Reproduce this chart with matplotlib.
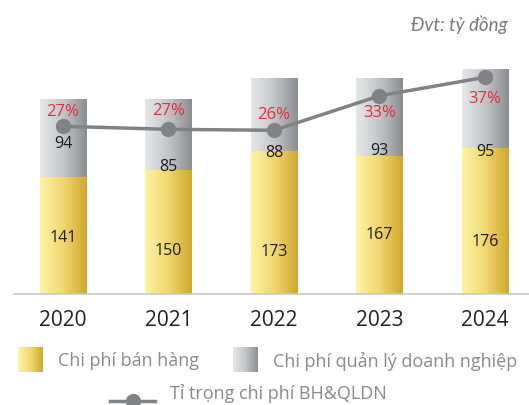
import matplotlib
matplotlib.use("Agg")
import matplotlib.pyplot as plt
import numpy as np
from matplotlib.colors import LinearSegmentedColormap
from matplotlib.lines import Line2D

plt.rcParams['font.family'] = ['Open Sans', 'DejaVu Sans']

# data
years = ["2020", "2021", "2022", "2023", "2024"]
ban_hang = [141, 150, 173, 167, 176]
quan_ly = [94, 85, 88, 93, 95]
ti_trong = [27.2, 26.6, 26.4, 33.3, 37.0]
ti_trong_labels = ["27%", "27%", "26%", "33%", "37%"]

# label placement tweaks (points / fractions)
gold_lab_frac = [0.485, 0.356, 0.30, 0.43, 0.36]
gray_lab_off = [24.5, 2.4, -0.9, 4.1, -2.4]
pct_lab_off = [10.8, 13.7, 11.5, -12.0, -14.9]

gold_cmap = LinearSegmentedColormap.from_list("gold", ["#fef3a6", "#f0d770", "#d0a82a"])
gray_cmap = LinearSegmentedColormap.from_list("gray", ["#e6e7e9", "#c4c5c8", "#8c8d91"])
grad = np.linspace(0, 1, 256).reshape(1, -1)

fig = plt.figure(figsize=(5.29, 4.06), dpi=100)
ax = fig.add_axes([0.0265, 0.2734, 0.9735, 0.5788])
ax2 = ax.twinx()

x = np.arange(len(years))
w = 0.436


def gradient_bars(bars, cmap):
    for b in bars:
        x0, y0 = b.get_x(), b.get_y()
        im = ax.imshow(grad, cmap=cmap, aspect='auto', zorder=2,
                       extent=[x0, x0 + b.get_width(), y0, y0 + b.get_height()])
        im.set_clip_path(b)
        b.set_facecolor('none')
        b.set_edgecolor('none')


b1 = ax.bar(x, ban_hang, w, zorder=1)
b2 = ax.bar(x, quan_ly, w, bottom=ban_hang, zorder=1)
gradient_bars(b1, gold_cmap)
gradient_bars(b2, gray_cmap)

ax.set_xlim(-0.464, 4.417)
ax.set_ylim(0, 283.5)

for i in range(len(years)):
    ax.text(x[i], ban_hang[i] * gold_lab_frac[i], str(ban_hang[i]), ha='center', va='center',
            fontsize=11.5, color='#1e1e1e', zorder=5)
    ax.annotate(str(quan_ly[i]), (x[i], ban_hang[i]), xytext=(0, gray_lab_off[i]),
                textcoords='offset points', ha='center', va='center',
                fontsize=11.5, color='#1e1e1e', zorder=5)

ax2.plot(x, ti_trong, color='#808285', lw=2.5, marker='o', ms=10, zorder=4)
ax2.set_ylim(-6.34, 40.66)
for i in range(len(years)):
    ax2.annotate(ti_trong_labels[i], (x[i], ti_trong[i]), xytext=(0, pct_lab_off[i]),
                 textcoords='offset points', ha='center', va='center',
                 fontsize=12, color='#e0303a', zorder=6)

for a in (ax, ax2):
    for s in ['top', 'right', 'left']:
        a.spines[s].set_visible(False)
    a.set_yticks([])
ax2.spines['bottom'].set_visible(False)
ax.spines['bottom'].set_color('#c8c8c8')
ax.spines['bottom'].set_linewidth(1.2)
ax.set_xticks(x)
ax.set_xticklabels(years, fontsize=15, color='#222222')
ax.tick_params(axis='x', length=0, pad=11)

fig.text(508 / 529, 1 - 25 / 406, "Đvt: tỷ đồng", ha='right', va='center',
         fontsize=13.5, style='italic', color='#7a7a7a', family=['Lato', 'DejaVu Sans'])

# legend
for left, cmap, label in [(18, gold_cmap, "Chi phí bán hàng"),
                          (233, gray_cmap, "Chi phí quản lý doanh nghiệp")]:
    lax = fig.add_axes([left / 529, 1 - 373 / 406, 25 / 529, 25 / 406])
    lax.imshow(grad, cmap=cmap, aspect='auto')
    lax.axis('off')
    fig.text((left + 40) / 529, 1 - 361 / 406, label, ha='left', va='center',
             fontsize=13, color='#8a8a8a')

fig.add_artist(Line2D([110 / 529, 155 / 529], [1 - 401.7 / 406] * 2, transform=fig.transFigure,
                      color='#808285', lw=2.5))
fig.add_artist(Line2D([133 / 529], [1 - 401.7 / 406], transform=fig.transFigure,
                      color='#808285', marker='o', ms=10))
fig.text(170 / 529, 1 - 393 / 406, "Tỉ trọng chi phí BH&QLDN", ha='left', va='center',
         fontsize=13, color='#8a8a8a')

fig.savefig("out.png", dpi=100)
